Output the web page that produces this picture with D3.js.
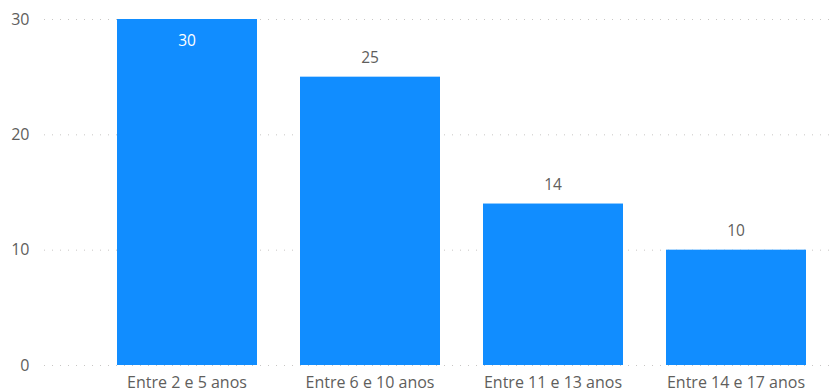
<!DOCTYPE html>
<html><head><meta charset="utf-8">
<script src="https://cdn.jsdelivr.net/npm/d3@7"></script>
<style>
html,body{margin:0;padding:0;background:#fff;}
svg{display:block;font-family:"Open Sans","Segoe UI",sans-serif;}
</style></head>
<body>
<svg id="chart" width="836" height="392"></svg>
<script>
const categories = ["Entre 2 e 5 anos","Entre 6 e 10 anos","Entre 11 e 13 anos","Entre 14 e 17 anos"];
const values = [30, 25, 14, 10];
const yTicks = [0, 10, 20, 30];

const svg = d3.select("#chart");
const x = d3.scaleBand().domain(categories).range([95.5, 827.5]).paddingInner(0.235).paddingOuter(0.1175);
const y = d3.scaleLinear().domain([0, 30]).range([365, 19]);

// gridlines
svg.append("g").selectAll("line").data(yTicks).join("line")
  .attr("x1", 44).attr("x2", 836)
  .attr("y1", d => y(d) + 0.5).attr("y2", d => y(d) + 0.5)
  .attr("stroke", "#c8c6c4").attr("stroke-width", 1)
  .attr("stroke-dasharray", "1,7");

// y axis labels
const yAxis = svg.append("g").attr("transform", "translate(29.5,0)")
  .call(d3.axisLeft(y).tickValues(yTicks).tickSize(0).tickPadding(0));
yAxis.select(".domain").remove();
yAxis.selectAll("text").attr("fill", "#605e5c").attr("font-size", 16)
  .attr("font-family", "'Open Sans', sans-serif");

// bars
svg.append("g").selectAll("rect").data(values).join("rect")
  .attr("x", (d, i) => x(categories[i]))
  .attr("width", x.bandwidth())
  .attr("y", d => y(d))
  .attr("height", d => y(0) - y(d))
  .attr("fill", "#118dff");

// data labels
svg.append("g").selectAll("text").data(values).join("text")
  .attr("x", (d, i) => x(categories[i]) + x.bandwidth() / 2)
  .attr("y", d => d === 30 ? y(d) + 27 : y(d) - 13.5)
  .attr("text-anchor", "middle")
  .attr("font-size", 15.5)
  .attr("fill", d => d === 30 ? "#ffffff" : "#605e5c")
  .text(d => d);

// x axis labels
const xAxis = svg.append("g").attr("transform", "translate(0,365)")
  .call(d3.axisBottom(x).tickSize(0).tickPadding(0));
xAxis.select(".domain").remove();
xAxis.selectAll("text").attr("fill", "#605e5c").attr("font-size", 16)
  .attr("dy", null).attr("y", 23)
  .attr("font-family", "'Open Sans', sans-serif");
</script>
</body></html>
